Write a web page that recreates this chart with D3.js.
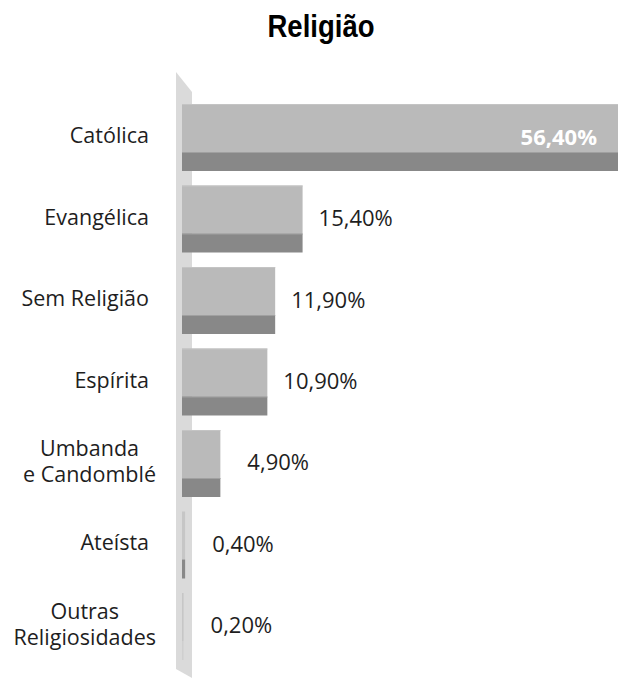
<!DOCTYPE html>
<html><head><meta charset="utf-8">
<script src="https://cdn.jsdelivr.net/npm/d3@7"></script>
<style>body{margin:0;background:#fff}</style>
</head><body>
<script>
const categories = [["Católica"],["Evangélica"],["Sem Religião"],["Espírita"],["Umbanda","e Candomblé"],["Ateísta"],["Outras","Religiosidades"]];
const values = [56.4, 15.4, 11.9, 10.9, 4.9, 0.4, 0.2];
const valueLabels = ["56,40%","15,40%","11,90%","10,90%","4,90%","0,40%","0,20%"];
const title = "Religião";

const W = 618, H = 679;
const svg = d3.select("body").append("svg").attr("width", W).attr("height", H);
const keys = categories.map(c => c.join(" "));
const y = d3.scaleBand().domain(keys).range([89.5, 674.5]).padding(0.178);
const x = d3.scaleLinear().domain([0, 56.4]).range([182, 182 + 56.4 * 7.83]);

svg.append("text").attr("text-anchor", "middle")
  .attr("transform", "translate(321,37) scale(0.86,1)")
  .style("font-family", "'Liberation Sans Narrow','Liberation Sans',sans-serif")
  .style("font-weight", "bold").style("font-size", "32px").attr("fill", "#000").text(title);

// wall
svg.append("path").attr("d", "M176,72 L192,92 L192,678 L176,669 Z").attr("fill", "#dadada");

const light = 48 / 67;
const g = svg.selectAll("g.bar").data(values).join("g").attr("class", "bar");
g.each(function(v, i) {
  const sel = d3.select(this);
  const y0 = y(keys[i]), bh = y.bandwidth();
  const w = Math.max(x(v) - x(0), 1);
  const thin = w < 5;
  sel.append("rect").attr("x", x(0)).attr("y", y0).attr("width", w).attr("height", bh * light)
    .attr("fill", thin ? "#c6c6c6" : "#bababa");
  sel.append("rect").attr("x", x(0)).attr("y", y0 + bh * light).attr("width", w).attr("height", bh * (1 - light))
    .attr("fill", thin && v < 0.3 ? "#cfcfcf" : "#888888");
  if (!thin) {
    sel.append("rect").attr("x", x(0)).attr("y", y0).attr("width", w).attr("height", 1).attr("fill", "#c4c4c4");
    sel.append("rect").attr("x", x(0)).attr("y", y0 + bh * light).attr("width", w).attr("height", 1).attr("fill", "#a0a0a0");
  }
});

// value labels
const cy = k => y(k) + y.bandwidth() / 2;
svg.selectAll("text.val").data(values).join("text").attr("class", "val")
  .attr("x", (v, i) => {
    if (i === 0) return 597;
    const w = x(v) - x(0);
    return x(v) + (w < 50 ? 27 : 16);
  })
  .attr("y", (v, i) => cy(keys[i]) - 2)
  .attr("dominant-baseline", "central")
  .attr("text-anchor", (v, i) => i === 0 ? "end" : "start")
  .style("font-family", "'Open Sans',sans-serif").style("font-size", "22px")
  .style("font-weight", (v, i) => i === 0 ? "bold" : "normal")
  .attr("fill", (v, i) => i === 0 ? "#ffffff" : "#1e1e1e")
  .text((v, i) => valueLabels[i]);

// category labels
categories.forEach((lines, i) => {
  const c = cy(keys[i]) - 3;
  const n = lines.length;
  const texts = lines.map((l, j) => svg.append("text")
    .attr("y", c + (j - (n - 1) / 2) * 26)
    .attr("dominant-baseline", "central")
    .style("font-family", "'Open Sans',sans-serif").style("font-size", "21.5px").attr("fill", "#1e1e1e")
    .text(l));
  if (n === 1) {
    texts[0].attr("text-anchor", "end").attr("x", 149);
  } else {
    const ws = texts.map(s => s.node().getComputedTextLength());
    const center = 156 - d3.max(ws) / 2;
    texts.forEach(s => s.attr("text-anchor", "middle").attr("x", center));
  }
});
</script>
</body></html>
